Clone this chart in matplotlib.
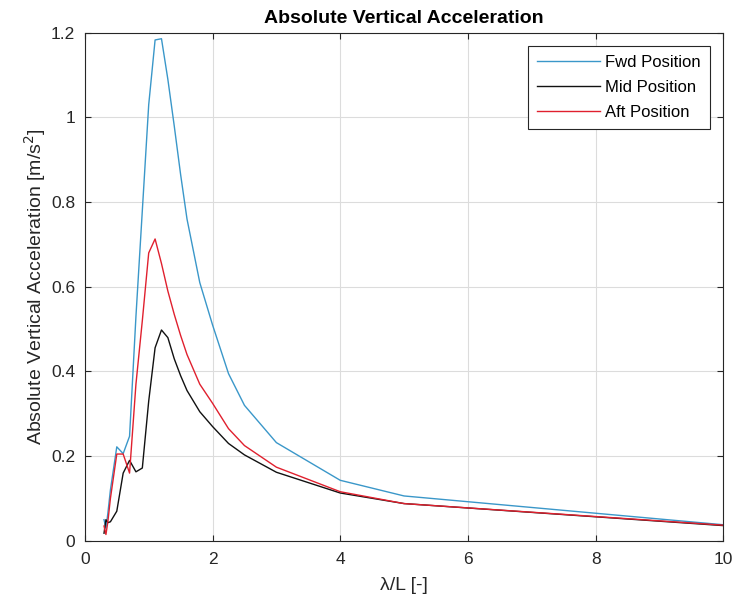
import matplotlib
matplotlib.use("Agg")
import matplotlib.pyplot as plt

lam = [0.3, 0.33, 0.36, 0.4, 0.5, 0.6, 0.7, 0.8, 0.9, 1.0, 1.1, 1.2, 1.3, 1.4, 1.5, 1.6,
       1.8, 2.0, 2.25, 2.5, 3.0, 4.0, 5.0, 10.0]
fwd = [0.05, 0.03, 0.065, 0.12, 0.222, 0.206, 0.247, 0.53, 0.78, 1.03, 1.183, 1.186, 1.09,
       0.98, 0.865, 0.76, 0.61, 0.51, 0.395, 0.32, 0.232, 0.143, 0.106, 0.038]
mid = [0.018, 0.05, 0.043, 0.045, 0.07, 0.16, 0.19, 0.163, 0.172, 0.33, 0.456, 0.498, 0.48,
       0.43, 0.39, 0.355, 0.305, 0.27, 0.23, 0.203, 0.162, 0.113, 0.088, 0.036]
aft = [0.035, 0.015, 0.045, 0.10, 0.205, 0.205, 0.16, 0.37, 0.52, 0.68, 0.713, 0.655, 0.59,
       0.535, 0.485, 0.44, 0.37, 0.325, 0.265, 0.225, 0.174, 0.116, 0.088, 0.037]
labels = ["Fwd Position", "Mid Position", "Aft Position"]

plt.rcParams['font.family'] = ['Liberation Sans', 'DejaVu Sans']

fig = plt.figure(figsize=(7.38, 6.07), dpi=100)
ax = fig.add_axes([0.115, 0.109, 0.865, 0.837])

ax.plot(lam, fwd, color='#3a97c9', lw=1.0, label=labels[0])
ax.plot(lam, mid, color='#111111', lw=1.0, label=labels[1])
ax.plot(lam, aft, color='#e0202e', lw=1.0, label=labels[2])

ax.set_xlim(0, 10)
ax.set_ylim(0, 1.2)
ax.set_xticks([0, 2, 4, 6, 8, 10])
ax.set_yticks([0, 0.2, 0.4, 0.6, 0.8, 1.0, 1.2])
ax.set_yticklabels(['0', '0.2', '0.4', '0.6', '0.8', '1', '1.2'])
ax.grid(True, color='#dcdcdc', lw=0.8)
ax.set_axisbelow(True)
for s in ax.spines.values():
    s.set_color('#262626')
    s.set_linewidth(0.8)
ax.tick_params(direction='in', top=True, right=True, labelsize=12.5, colors='#262626',
               length=4)
ax.tick_params(axis='x', pad=8)
ax.tick_params(axis='y', pad=7)
ax.set_xlabel('λ/L [-]', fontsize=14, color='#262626', labelpad=7)
ax.set_ylabel('Absolute Vertical Acceleration [m/s$^2$]', fontsize=14, color='#262626',
              labelpad=2)
ax.set_title('Absolute Vertical Acceleration', fontsize=14, fontweight='bold', pad=7)

leg = ax.legend(loc='upper right', fontsize=12, fancybox=False, framealpha=1,
                edgecolor='#262626', borderaxespad=0.8, handlelength=3.8,
                handletextpad=0.3, labelspacing=0.6, borderpad=0.55)
leg.get_frame().set_linewidth(0.8)

fig.savefig('out.png', dpi=100)
